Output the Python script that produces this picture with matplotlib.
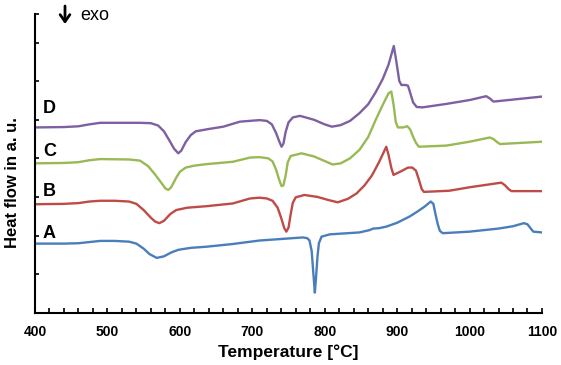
import matplotlib
matplotlib.use("Agg")
import matplotlib.pyplot as plt

# DSC curves, values (y in arbitrary units, offset per sample)
temp_a = [400, 440, 460, 475, 490, 510, 530, 540, 550, 558, 568, 578, 588, 598, 615, 637, 673, 710,
          740, 770, 776, 779, 782, 784, 786.4, 788, 790, 792, 795.6, 807, 848, 862, 867, 875, 885,
          900, 917, 928, 938, 946.5, 950, 953, 956, 959, 963, 1000, 1040, 1060, 1075, 1080, 1085,
          1088, 1100]
flow_a = [1.79, 1.79, 1.80, 1.83, 1.86, 1.86, 1.84, 1.79, 1.66, 1.52, 1.42, 1.46, 1.56, 1.63, 1.68, 1.71,
          1.78, 1.87, 1.91, 1.95, 1.93, 1.87, 1.60, 1.10, 0.52, 0.90, 1.45, 1.80, 1.97, 2.03, 2.08, 2.14,
          2.18, 2.19, 2.23, 2.33, 2.49, 2.62, 2.75, 2.88, 2.82, 2.55, 2.30, 2.12, 2.06, 2.10, 2.18, 2.24,
          2.32, 2.29, 2.17, 2.10, 2.08]

temp_b = [400, 440, 460, 475, 490, 510, 530, 540, 550, 560, 566, 571.6, 578, 587, 595, 610, 637, 673,
          697, 710, 720, 728, 735, 740, 744, 747, 750, 753, 756, 760, 772, 790, 805, 818, 832, 844,
          855, 865, 875, 882, 885, 888, 892, 895, 905, 915, 921, 926, 930, 934, 937, 972, 1000, 1044,
          1049, 1054, 1058, 1100]
flow_b = [2.81, 2.82, 2.84, 2.88, 2.90, 2.90, 2.88, 2.82, 2.66, 2.46, 2.36, 2.32, 2.38, 2.56, 2.66, 2.72,
          2.76, 2.83, 2.96, 2.98, 2.96, 2.90, 2.72, 2.45, 2.20, 2.10, 2.20, 2.55, 2.85, 2.99, 3.05, 3.00,
          2.92, 2.86, 2.95, 3.09, 3.30, 3.55, 3.90, 4.18, 4.30, 4.10, 3.75, 3.57, 3.66, 3.76, 3.76, 3.68,
          3.45, 3.20, 3.13, 3.16, 3.25, 3.37, 3.30, 3.20, 3.15, 3.15]

temp_c = [400, 440, 460, 475, 490, 530, 545, 556, 565, 575, 580, 584, 588, 595, 600, 608, 620, 637,
          673, 697, 710, 722, 728, 733, 737, 740.4, 743, 746, 749, 753, 768, 785, 800, 811, 822, 835,
          848, 860, 870, 880, 888, 892, 895, 898, 901, 908, 914, 918, 922, 926, 930, 968, 1000, 1028,
          1033, 1038, 1042, 1100]
flow_c = [3.87, 3.88, 3.90, 3.95, 3.98, 3.97, 3.94, 3.80, 3.60, 3.35, 3.22, 3.18, 3.25, 3.50, 3.65, 3.76,
          3.81, 3.85, 3.91, 4.02, 4.03, 4.00, 3.92, 3.70, 3.45, 3.28, 3.30, 3.55, 3.90, 4.06, 4.13, 4.05,
          3.93, 3.84, 3.87, 4.00, 4.22, 4.55, 4.98, 5.38, 5.68, 5.73, 5.40, 4.95, 4.80, 4.80, 4.83, 4.75,
          4.56, 4.40, 4.30, 4.33, 4.43, 4.54, 4.50, 4.42, 4.37, 4.43]

temp_d = [400, 440, 460, 475, 490, 545, 560, 570, 578, 585, 592, 597.8, 602, 608, 615, 622, 640, 660,
          683, 710, 720, 727, 733, 737, 740.4, 743, 746, 750, 756, 766, 785, 800, 810, 822, 835, 848,
          860, 870, 880, 888, 895.4, 899, 903, 906, 912, 915, 918, 922, 927, 935, 968, 1000, 1023,
          1028, 1033, 1100]
flow_d = [4.80, 4.81, 4.83, 4.88, 4.92, 4.92, 4.91, 4.85, 4.70, 4.48, 4.25, 4.13, 4.20, 4.42, 4.60, 4.70,
          4.76, 4.82, 4.95, 4.99, 4.97, 4.88, 4.65, 4.45, 4.30, 4.38, 4.68, 4.93, 5.06, 5.10, 5.00, 4.88,
          4.82, 4.86, 4.97, 5.17, 5.40, 5.70, 6.05, 6.42, 6.91, 6.50, 6.00, 5.90, 5.90, 5.88, 5.70, 5.45,
          5.33, 5.32, 5.41, 5.51, 5.61, 5.55, 5.47, 5.60]

curve_names = ["A", "B", "C", "D"]
label_y = [2.06, 3.15, 4.17, 5.30]

fig = plt.figure(figsize=(5.61, 3.65), dpi=100)
ax = fig.add_axes([0.0624, 0.1433, 0.9037, 0.8184])

colors = ["#4A7EBB", "#BE4B48", "#98B954", "#7D60A0"]
for t, f, c in zip([temp_a, temp_b, temp_c, temp_d], [flow_a, flow_b, flow_c, flow_d], colors):
    ax.plot(t, f, color=c, lw=1.7, solid_joinstyle="round")

for name, y in zip(curve_names, label_y):
    ax.text(411, y, name, fontsize=13, fontweight="bold", family="Liberation Sans",
            ha="left", va="center")

ymax = 7.74
ax.set_xlim(400, 1100)
ax.set_ylim(0, ymax)
ax.set_xticks(range(400, 1101, 100))
ax.set_xticks(range(400, 1101, 20), minor=True)
ax.set_yticks(list(range(8)) + [ymax])
ax.set_yticklabels([])
ax.tick_params(direction="in", length=3.5, width=1.2, pad=9)
ax.tick_params(which="minor", direction="in", length=3.5, width=1.2)
ax.tick_params(axis="y", length=3)
for lbl in ax.get_xticklabels():
    lbl.set_fontweight("bold")
    lbl.set_fontsize(10)
    lbl.set_family("Liberation Sans")

for side in ["top", "right"]:
    ax.spines[side].set_visible(False)
for side in ["left", "bottom"]:
    ax.spines[side].set_linewidth(1.5)

ax.set_xlabel("Temperature [°C]", fontsize=12.5, fontweight="bold", family="Liberation Sans", labelpad=4)
fig.text(12.5 / 561, 1 - 183 / 365, "Heat flow in a. u.", rotation=90, ha="center", va="center",
         fontsize=12, fontweight="bold", family="Liberation Sans")

# "exo" arrow pointing down
ax.annotate("", xy=(65 / 561, 1 - 24 / 365), xytext=(65 / 561, 1 - 6 / 365),
            xycoords="figure fraction", textcoords="figure fraction",
            arrowprops=dict(arrowstyle="->,head_width=0.35,head_length=0.5", lw=2, color="black",
                            shrinkA=0, shrinkB=0))
fig.text(80 / 561, 1 - 15 / 365, "exo", ha="left", va="center", fontsize=13, family="Liberation Sans")

fig.savefig("out.png", dpi=100)
